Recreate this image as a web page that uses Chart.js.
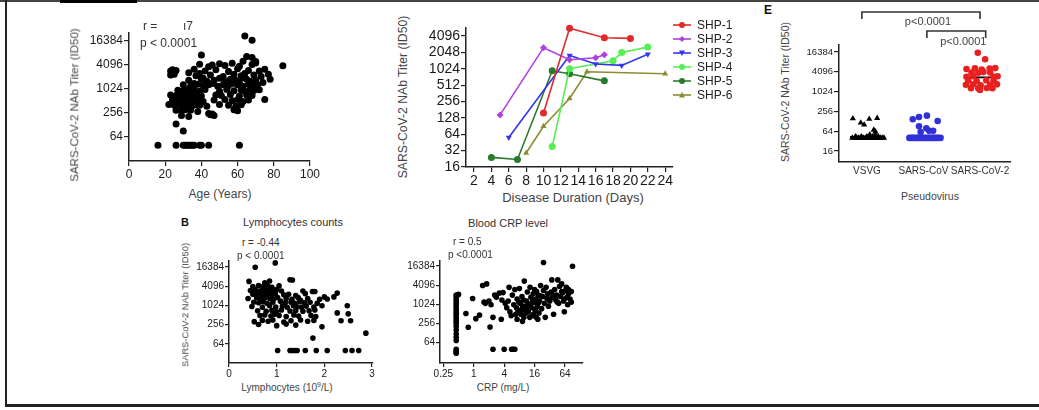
<!DOCTYPE html>
<html>
<head>
<meta charset="utf-8">
<script src="https://cdn.jsdelivr.net/npm/chart.js@4.4.0/dist/chart.umd.min.js"></script>
<style>
  body { margin: 0; background: #fff; width: 1039px; height: 410px; position: relative; overflow: hidden;
         font-family: "Liberation Sans", Arial, sans-serif; color: #333; }
  canvas { position: absolute; }
  .t { position: absolute; white-space: nowrap; line-height: 1; }
  .l { transform: translate(0, -50%); }
  .c { transform: translate(-50%, -50%); }
  .rot { transform: translate(-50%, -50%) rotate(-90deg); }
  .bar { position: absolute; background: #222; }
  sup { font-size: 7px; vertical-align: 4px; line-height: 0; }
</style>
</head>
<body>
<div class="bar" style="left:0;top:0;width:1039px;height:2px;background:#444"></div>
<div class="bar" style="left:60px;top:0;width:77px;height:3px;background:#000"></div>
<div class="bar" style="left:5px;top:0;width:2px;height:406px"></div>
<div class="bar" style="left:5px;top:404px;width:1034px;height:3px"></div>

<canvas id="age" width="245" height="158" style="left:80px;top:25px"></canvas>
<canvas id="kinetics" width="330" height="171" style="left:410px;top:18px"></canvas>
<canvas id="pseudo" width="243" height="180" style="left:795px;top:0px"></canvas>
<canvas id="lymph" width="193" height="128" style="left:190px;top:253px"></canvas>
<canvas id="crp" width="193" height="128" style="left:400px;top:253px"></canvas>

<!-- panel texts -->
<div class="t l" style="left:143px;top:26px;font-size:12px">r =</div>
<div class="t l" style="left:183px;top:26px;font-size:12px">ı7</div>
<div class="t l" style="left:140px;top:43px;font-size:12px">p &lt; 0.0001</div>
<div class="t rot" style="left:75px;top:105px;font-size:11.5px;color:#444">SARS-CoV-2 NAb Titer (ID50)</div>
<div class="t c" style="left:220px;top:194px;font-size:12px;color:#444">Age (Years)</div>

<div class="t rot" style="left:403px;top:97px;font-size:12.2px;color:#444">SARS-CoV-2 NAb Titer (ID50)</div>
<div class="t c" style="left:573px;top:197px;font-size:13px;color:#444">Disease Duration (Days)</div>

<div class="t l" style="left:764px;top:10px;font-size:12px;font-weight:bold;color:#111">E</div>
<div class="t rot" style="left:785px;top:92px;font-size:10.5px;color:#444">SARS-CoV-2 NAb Titer (ID50)</div>
<div class="t c" style="left:930px;top:196px;font-size:10.5px;color:#444">Pseudovirus</div>

<div class="t l" style="left:181px;top:222px;font-size:11px;font-weight:bold;color:#111">B</div>
<div class="t c" style="left:293px;top:222px;font-size:11px">Lymphocytes counts</div>
<div class="t l" style="left:242px;top:243px;font-size:10px">r = -0.44</div>
<div class="t l" style="left:237px;top:256px;font-size:10px">p &lt; 0.0001</div>
<div class="t rot" style="left:186px;top:305px;font-size:9.3px;color:#444">SARS-CoV-2 NAb Titer (ID50)</div>
<div class="t c" style="left:287px;top:388px;font-size:10px;color:#444">Lymphocytes (10<sup>9</sup>/L)</div>

<div class="t c" style="left:508px;top:223px;font-size:11px">Blood CRP level</div>
<div class="t l" style="left:453px;top:242px;font-size:10px">r = 0.5</div>
<div class="t l" style="left:448px;top:255px;font-size:10px">p &lt;0.0001</div>
<div class="t c" style="left:503px;top:388px;font-size:10px;color:#444">CRP (mg/L)</div>

<script>
// ---------- data ----------
const titerTicks = [64, 256, 1024, 4096, 16384];
const titerTicksE = [16, 64, 256, 1024, 4096, 16384];
const kineticsTicks = [16, 32, 64, 128, 256, 512, 1024, 2048, 4096];
const ageTicks = [0, 20, 40, 60, 80, 100];
const dayTicks = [2, 4, 6, 8, 10, 12, 14, 16, 18, 20, 22, 24];
const lymphTicks = [0, 1, 2, 3];
const crpTicks = [0.25, 1, 4, 16, 64];

// age vs titer
const ageYears = [
  64, 68, 40, 65, 68, 70, 63,
  39, 46, 50, 53, 57, 68, 70, 85, 61, 44,
  24, 26, 36, 42, 48, 55, 60, 66, 72, 75, 23,
  23, 25, 37, 39, 45, 52, 58, 62, 64, 69, 73, 77, 33,
  33, 40, 43, 47, 50, 53, 56, 59, 61, 65, 67, 70, 74, 78, 41, 63,
  30, 34, 38, 41, 44, 46, 49, 52, 55, 57, 60, 63, 66, 68, 71, 36,
  27, 29, 31, 33, 36, 39, 42, 50, 54, 58, 62, 64, 67, 69, 72, 35,
  23, 26, 28, 30, 32, 35, 37, 40, 48, 51, 56, 61, 65, 68, 75, 31,
  24, 27, 29, 31, 33, 34, 36, 38, 41, 47, 53, 57, 60, 63, 66,
  25, 28, 30, 32, 35, 37, 39, 43, 50, 55, 59, 62, 22,
  26, 29, 31, 34, 38, 44, 46, 58, 60,
  29, 33, 45, 47,
  26, 30,
  16, 26, 30, 31, 32, 33, 34, 35, 36, 39, 40, 44, 61
];
const ageTiter = [
  22000, 17000, 7300, 6700, 6300, 5000, 5100,
  4300, 4100, 4400, 4000, 4500, 4200, 4600, 3900, 3800, 3700,
  3100, 3000, 3200, 2900, 3100, 2800, 3300, 3000, 2900, 3200, 2900,
  2300, 2400, 2200, 2500, 2300, 2100, 2400, 2200, 2500, 2300, 2100, 2400, 2600,
  1700, 1800, 1600, 1700, 1900, 1600, 1800, 1700, 1500, 1800, 1600, 1700, 1500, 1800, 1900, 2000,
  1300, 1200, 1350, 1250, 1300, 1400, 1200, 1300, 1250, 1400, 1300, 1200, 1350, 1250, 1300, 1400,
  950, 900, 1000, 920, 980, 900, 1000, 900, 1000, 920, 980, 900, 1000, 940, 980, 1050,
  720, 700, 740, 680, 720, 700, 760, 680, 720, 700, 740, 680, 720, 700, 560, 800,
  540, 520, 560, 500, 540, 580, 520, 550, 500, 540, 560, 520, 560, 500, 540,
  400, 420, 380, 410, 390, 420, 400, 380, 420, 400, 380, 410, 420,
  300, 290, 310, 300, 280, 250, 240, 310, 290,
  220, 210, 230, 220,
  136, 90,
  40, 40, 40, 40, 40, 40, 40, 40, 40, 40, 40, 40, 40
];

// kinetics per patient
const shpNames = ['SHP-1', 'SHP-2', 'SHP-3', 'SHP-4', 'SHP-5', 'SHP-6'];
const shpColors = ['#e02a2a', '#b040e0', '#3535e8', '#55ee55', '#2a7a2a', '#8c8c30'];
const shpMarkers = ['circle', 'rectRot', 'triangleDown', 'circle', 'circle', 'triangle'];
const shp1Day = [10, 13, 17, 20];
const shp1Titer = [158, 5700, 3800, 3700];
const shp2Day = [5, 10, 13, 16, 17];
const shp2Titer = [145, 2500, 1500, 1630, 1850];
const shp3Day = [6, 13, 16, 19, 22];
const shp3Titer = [56, 1800, 1250, 1180, 1900];
const shp4Day = [11, 13, 18, 19, 22];
const shp4Titer = [38, 1024, 1440, 2048, 2560];
const shp5Day = [4, 7, 11, 13, 17];
const shp5Titer = [24, 22, 940, 830, 614];
const shp6Day = [8, 10, 13, 15, 24];
const shp6Titer = [29, 90, 290, 900, 830];

// pseudovirus groups
const pseudoGroups = ['VSVG', 'SARS-CoV', 'SARS-CoV-2'];
const vsvgX = [0.74, 0.78, 0.82, 0.85, 0.88, 0.91, 0.94, 0.97, 1.0, 1.03, 1.06, 1.09, 1.12, 1.15, 1.18, 1.21, 1.24, 1.27, 1.3,
  0.8, 0.9, 1.0, 1.1, 1.2, 1.05, 1.15,
  0.75, 0.89, 1.04, 1.18, 0.95, 1.12, 1.15];
const vsvgY = [40, 40, 40, 40, 40, 40, 40, 40, 40, 40, 40, 40, 40, 40, 40, 40, 40, 40, 40,
  44, 44, 44, 44, 44, 50, 50,
  155, 115, 150, 160, 100, 70, 62];
const sarsX = [1.75, 1.78, 1.81, 1.84, 1.87, 1.9, 1.93, 1.96, 1.99, 2.02, 2.05, 2.08, 2.11, 2.14, 2.17, 2.2, 2.23, 2.26, 2.3,
  1.81, 1.92, 2.06, 2.25, 1.92, 2.05, 2.1, 2.17, 1.95];
const sarsY = [40, 40, 40, 40, 40, 40, 40, 40, 40, 40, 40, 40, 40, 40, 40, 40, 40, 40, 40,
  147, 173, 190, 131, 90, 78, 66, 66, 60];
const sars2X = [2.96, 3.09,
  2.76, 2.91, 3.03, 3.17, 3.27,
  2.85, 2.97, 3.06, 3.18,
  2.76, 2.88, 3.24, 3.31,
  2.79, 2.94, 3.11, 3.24,
  2.75, 2.88, 3.01, 3.18, 3.3,
  2.84, 2.97, 3.12, 3.22, 3.0];
const sars2Y = [15600, 9800,
  5000, 5200, 4800, 5100, 5300,
  3900, 3800, 4000, 3900,
  2900, 3000, 2900, 3000,
  2200, 2150, 2250, 2200,
  1650, 1700, 1600, 1650, 1700,
  1300, 1280, 1320, 1300, 1140];
const groupMedianX = [[0.7, 1.32], [1.72, 2.35], [2.72, 3.33]];
const groupMedianY = [43, 43, 2770];

// lymphocytes vs titer
const lymphCount = [
  0.55, 0.97,
  0.42, 0.75, 0.85, 1.28, 1.33,
  0.5, 0.62, 0.7, 0.78, 0.82, 0.9, 1.05,
  0.45, 0.55, 0.65, 0.72, 0.8, 0.88, 0.95, 1.0, 1.1, 1.55, 1.75, 1.8,
  0.5, 0.6, 0.68, 0.74, 0.83, 0.9, 0.97, 1.15, 1.25, 1.4, 1.6, 2.0, 2.2, 2.27,
  0.4, 0.58, 0.66, 0.76, 0.86, 0.93, 1.02, 1.2, 1.32, 1.45, 1.5, 1.65, 1.9, 2.06,
  0.52, 0.62, 0.72, 0.8, 0.92, 1.08, 1.18, 1.3, 1.38, 1.48, 1.58, 1.7, 1.85,
  0.48, 0.7, 0.85, 0.98, 1.12, 1.22, 1.35, 1.42, 1.52, 1.62, 1.78, 1.95, 2.48,
  0.6, 0.78, 0.9, 1.0, 1.1, 1.28, 1.4, 1.55, 1.68, 1.8, 2.27, 2.5,
  0.65, 0.75, 0.88, 0.95, 1.05, 1.2, 1.36, 1.46, 1.72, 1.82,
  0.53, 0.7, 0.82, 0.92, 1.15, 1.3, 1.5, 1.65, 1.78, 2.35, 2.55,
  0.62, 1.0, 1.2, 1.4, 1.95,
  1.76, 2.87,
  1.02, 1.28, 1.33, 1.38, 1.43, 1.6, 1.83, 2.06, 2.44, 2.58, 2.72
];
const lymphTiter = [
  16000, 22000,
  5800, 5200, 6000, 6500, 6400,
  4000, 4300, 3900, 4500, 4100, 3800, 4200,
  3000, 3200, 2900, 3100, 3300, 2800, 3000, 3200, 2900, 2900, 2800, 2800,
  2300, 2400, 2200, 2500, 2300, 2100, 2400, 2200, 2300, 2100, 2400, 1900, 1900, 2500,
  1700, 1800, 1600, 1800, 1700, 1600, 1800, 1700, 1600, 1800, 1500, 1700, 1600, 1630,
  1300, 1250, 1350, 1200, 1300, 1400, 1250, 1300, 1200, 1350, 1250, 1300, 1200,
  950, 900, 1000, 920, 980, 900, 1000, 940, 900, 980, 920, 1000, 1000,
  700, 680, 720, 650, 740, 690, 720, 680, 700, 740, 600, 560,
  500, 520, 480, 540, 500, 460, 520, 480, 500, 460,
  320, 350, 330, 360, 310, 340, 360, 330, 350, 340, 340,
  260, 240, 270, 250, 220,
  98, 140,
  40, 40, 40, 40, 40, 40, 40, 40, 40, 40, 40
];

// CRP vs titer
const crpLevel = [
  0.45, 0.45, 0.45, 0.45, 0.45, 0.45, 0.45, 0.45, 0.45, 0.45, 0.45, 0.45,
  0.45, 0.45, 0.45, 0.45, 0.45, 0.45, 0.45, 0.45, 0.45, 0.45, 0.45,
  0.5, 0.7, 0.78, 0.95, 1.1, 1.3, 1.5, 1.8, 2.1, 2.4,
  2.4, 4, 5.6, 6, 6.5,
  24, 90,
  1.6, 1.7, 2.0, 2.2, 2.6, 2.8, 3.2, 3.5, 3.6, 3.8, 4.2, 4.5, 4.8, 5, 5.2, 5.5, 5.8, 6.2, 6.5, 7,
  7.2, 7.5, 8, 8.3, 8.6, 9, 9.4, 9.8, 10, 10.5, 11, 11.5, 12, 12.5, 13, 13.5, 14, 14.5, 15, 15.5,
  16, 16.5, 17, 17.5, 18, 18.5, 19, 20, 21, 22, 23, 24, 25, 26, 27, 28, 29, 30, 32, 34,
  35, 36, 38, 40, 42, 44, 46, 48, 50, 52, 55, 58, 60, 62, 65, 68, 70, 72, 75, 80, 85,
  6.8, 7.8, 8.8, 9.6, 10.8, 11.8, 12.8, 13.8, 14.8, 16.8, 18.8, 19.5, 20.5, 11.2, 15.2, 9.2, 7.2, 17.2,
  30, 38, 45, 55, 62, 75, 85
];
const crpTiter = [
  30, 32, 36, 40, 75, 95, 120, 160, 210, 260, 300, 360,
  420, 500, 580, 680, 800, 950, 1100, 1300, 1500, 1800, 2000,
  2100, 530, 195, 1560, 365, 470, 4000, 4500, 200, 400,
  40, 40, 40, 40, 40,
  21000, 16000,
  1200, 1100, 1300, 1000, 2000, 1700, 2300, 350, 1400, 2400, 1100, 800, 1300, 3500, 600, 450, 2000, 1000, 3000, 800,
  1500, 650, 3200, 1100, 500, 1800, 900, 400, 5500, 700, 1300, 2500, 600, 950, 3500, 1700, 800, 450, 2200, 1200,
  3000, 650, 1500, 2600, 900, 350, 2000, 1300, 4000, 750, 1800, 2800, 1100, 400, 3500, 1600, 2200, 900, 1300, 2500,
  6000, 1700, 500, 3000, 1400, 2000, 6000, 1100, 3800, 1800, 4500, 2400, 1300, 600, 2800, 3500, 1700, 1000, 2200, 1500, 2600,
  500, 1200, 700, 1400, 550, 1000, 400, 1100, 1400, 700, 1100, 550, 1900, 850, 500, 300, 350, 400,
  1500, 2000, 1200, 2600, 1500, 3000, 1200
];

// ---------- helpers ----------
const pts = (xs, ys) => xs.map((x, i) => ({ x, y: ys[i] }));
const font = (size) => ({ family: '"Liberation Sans", Arial, sans-serif', size });

const fixWidth = (w) => (s) => { s.width = w; s.paddingTop = 0; s.paddingBottom = 0; };
const fixHeight = (h) => (s) => { s.height = h; s.paddingLeft = 0; s.paddingRight = 0; };

function axis(type, min, max, tickValues, size, extra = {}) {
  return {
    type, min, max,
    afterBuildTicks: (s) => { s.ticks = tickValues.map((v) => ({ value: v })); },
    ticks: { callback: (v) => String(v), font: font(size), color: '#1a1a1a', padding: 1, autoSkip: false, maxRotation: 0 },
    grid: { drawOnChartArea: false, tickLength: 5, color: '#222', lineWidth: 1.2 },
    border: { color: '#222', width: 1.5 },
    ...extra
  };
}

function baseOptions(padTop, padRight, scales) {
  return {
    responsive: false,
    animation: false,
    devicePixelRatio: 1,
    layout: { padding: { top: padTop, right: padRight, left: 0, bottom: 0 }, autoPadding: false },
    plugins: { legend: { display: false }, tooltip: { enabled: false } },
    scales
  };
}

function drawMarker(ctx, style, x, y, r, color) {
  ctx.fillStyle = color;
  ctx.beginPath();
  if (style === 'circle') {
    ctx.arc(x, y, r, 0, Math.PI * 2);
  } else if (style === 'rectRot') {
    ctx.moveTo(x, y - r); ctx.lineTo(x + r, y); ctx.lineTo(x, y + r); ctx.lineTo(x - r, y);
  } else if (style === 'triangle') {
    ctx.moveTo(x, y - r); ctx.lineTo(x + r, y + r * 0.8); ctx.lineTo(x - r, y + r * 0.8);
  } else {
    ctx.moveTo(x, y + r); ctx.lineTo(x + r, y - r * 0.8); ctx.lineTo(x - r, y - r * 0.8);
  }
  ctx.closePath();
  ctx.fill();
}

// ---------- panel: age ----------
new Chart(document.getElementById('age'), {
  type: 'scatter',
  data: { datasets: [{ data: pts(ageYears, ageTiter), backgroundColor: '#000', borderWidth: 0, pointRadius: 3.5, clip: false }] },
  options: baseOptions(8, 15, {
    x: axis('linear', 0, 100, ageTicks, 12, { afterFit: fixHeight(22) }),
    y: axis('logarithmic', 16, 26000, titerTicks, 12, { afterFit: fixWidth(49) })
  })
});

// ---------- panel: kinetics ----------
const shpDays = [shp1Day, shp2Day, shp3Day, shp4Day, shp5Day, shp6Day];
const shpTiters = [shp1Titer, shp2Titer, shp3Titer, shp4Titer, shp5Titer, shp6Titer];

const legendPlugin = {
  id: 'shpLegend',
  afterDraw(chart) {
    const ctx = chart.ctx;
    const x0 = chart.chartArea.right;
    shpNames.forEach((name, i) => {
      const y = 7 + i * 14;
      ctx.save();
      ctx.strokeStyle = shpColors[i];
      ctx.lineWidth = 1.6;
      ctx.beginPath(); ctx.moveTo(x0, y); ctx.lineTo(x0 + 18, y); ctx.stroke();
      drawMarker(ctx, shpMarkers[i], x0 + 9, y, 3, shpColors[i]);
      ctx.fillStyle = '#222';
      ctx.font = '12px "Liberation Sans", Arial, sans-serif';
      ctx.textBaseline = 'middle';
      ctx.fillText(name, x0 + 24, y + 1);
      ctx.restore();
    });
  }
};

new Chart(document.getElementById('kinetics'), {
  type: 'line',
  data: {
    datasets: shpNames.map((name, i) => ({
      label: name,
      data: pts(shpDays[i], shpTiters[i]),
      borderColor: shpColors[i],
      backgroundColor: shpColors[i],
      borderWidth: 1.6,
      pointStyle: shpMarkers[i] === 'triangleDown' ? 'triangle' : shpMarkers[i],
      rotation: shpMarkers[i] === 'triangleDown' ? 180 : 0,
      pointRadius: 3.5,
      pointBorderWidth: 0,
      tension: 0,
      clip: false
    }))
  },
  options: baseOptions(10, 67, {
    x: axis('linear', 1.08, 24.9, dayTicks, 14, { afterFit: fixHeight(22) }),
    y: axis('logarithmic', 16, 5750, kineticsTicks, 14, { afterFit: fixWidth(56) })
  }),
  plugins: [legendPlugin]
});

// ---------- panel: pseudovirus ----------
const bracketPlugin = {
  id: 'brackets',
  afterDraw(chart) {
    const ctx = chart.ctx;
    const xs = chart.scales.x;
    const draw = (a, b, y, labelY) => {
      const x1 = xs.getPixelForValue(a), x2 = xs.getPixelForValue(b);
      ctx.save();
      ctx.strokeStyle = '#333';
      ctx.lineWidth = 1.6;
      ctx.beginPath();
      ctx.moveTo(x1, y + 7); ctx.lineTo(x1, y); ctx.lineTo(x2, y); ctx.lineTo(x2, y + 7);
      ctx.stroke();
      ctx.fillStyle = '#444';
      ctx.font = '11px "Liberation Sans", Arial, sans-serif';
      ctx.textAlign = 'center';
      ctx.textBaseline = 'middle';
      ctx.fillText('p<0.0001', (x1 + x2) / 2 + 7, labelY);
      ctx.restore();
    };
    draw(0.91, 3.0, 12, 22);
    draw(2.06, 3.1, 31, 42);
  }
};

new Chart(document.getElementById('pseudo'), {
  type: 'scatter',
  data: {
    datasets: [
      { data: pts(vsvgX, vsvgY), pointStyle: 'triangle', backgroundColor: '#000', borderWidth: 0, pointRadius: 3.6, clip: false },
      { data: pts(sarsX, sarsY), backgroundColor: '#3030d8', borderWidth: 0, pointRadius: 3.3, clip: false },
      { data: pts(sars2X, sars2Y), backgroundColor: '#e82020', borderWidth: 0, pointRadius: 3.3, clip: false },
      ...groupMedianX.map((xr, i) => ({
        type: 'line',
        data: pts(xr, [groupMedianY[i], groupMedianY[i]]),
        borderColor: '#000', borderWidth: 1.6, pointRadius: 0, clip: false
      }))
    ]
  },
  options: baseOptions(45, 28, {
    x: axis('linear', 0.505, 3.53, [1, 2, 3], 10, {
      afterFit: fixHeight(18),
      ticks: { callback: (v) => pseudoGroups[v - 1], font: font(10), color: '#333', padding: 3, autoSkip: false, maxRotation: 0 },
      grid: { drawOnChartArea: false, drawTicks: false }
    }),
    y: axis('logarithmic', 7.4, 26700, titerTicksE, 9.5, { afterFit: fixWidth(44) })
  }),
  plugins: [bracketPlugin]
});

// ---------- panel: lymphocytes ----------
new Chart(document.getElementById('lymph'), {
  type: 'scatter',
  data: { datasets: [{ data: pts(lymphCount, lymphTiter), backgroundColor: '#000', borderWidth: 0, pointRadius: 2.8, clip: false }] },
  options: baseOptions(8, 10, {
    x: axis('linear', 0, 3.02, lymphTicks, 10, { afterFit: fixHeight(18), grid: { drawOnChartArea: false, tickLength: 4, color: '#222', lineWidth: 1.2 } }),
    y: axis('logarithmic', 16.3, 25200, titerTicks, 10, { afterFit: fixWidth(39), grid: { drawOnChartArea: false, tickLength: 4, color: '#222', lineWidth: 1.2 } })
  })
});

// ---------- panel: CRP ----------
new Chart(document.getElementById('crp'), {
  type: 'scatter',
  data: { datasets: [{ data: pts(crpLevel, crpTiter), backgroundColor: '#000', borderWidth: 0, pointRadius: 2.8, clip: false }] },
  options: baseOptions(8, 10, {
    x: axis('logarithmic', 0.215, 145, crpTicks, 10, { afterFit: fixHeight(18), grid: { drawOnChartArea: false, tickLength: 4, color: '#222', lineWidth: 1.2 } }),
    y: axis('logarithmic', 14.8, 23500, titerTicks, 10, { afterFit: fixWidth(40), grid: { drawOnChartArea: false, tickLength: 4, color: '#222', lineWidth: 1.2 } })
  })
});
</script>
</body>
</html>
